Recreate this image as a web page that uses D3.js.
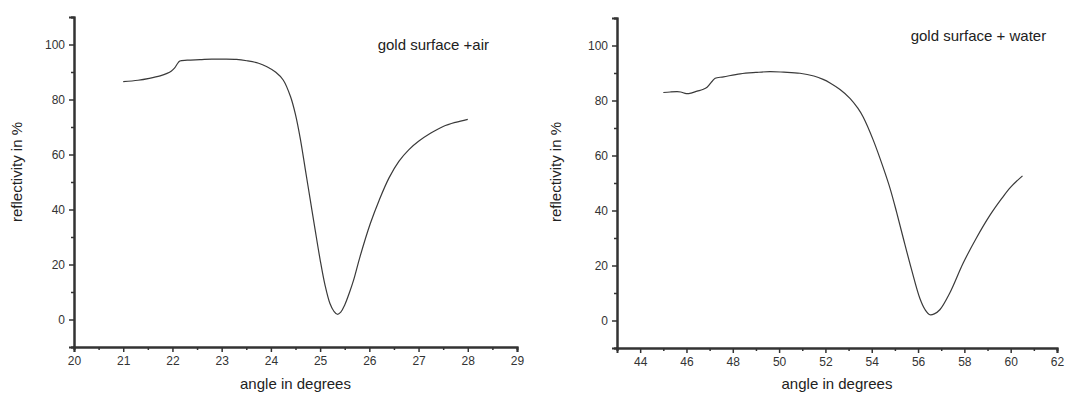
<!DOCTYPE html>
<html><head><meta charset="utf-8">
<script src="https://cdn.jsdelivr.net/npm/d3@7"></script>
<style>
html,body{margin:0;padding:0;background:#fff;}
svg{display:block;font-family:Arial,"Liberation Sans",sans-serif;}
</style></head>
<body><svg id="chart" width="1067" height="394"></svg>
<script>
// ---- data ----
const airAngles = [21.0,21.3,21.53,21.75,21.89,21.98,22.05,22.1,22.15,22.3,22.56,22.8,23.03,23.3,23.51,23.75,23.92,24.1,24.25,24.4,24.5,24.6,24.7,24.8,24.9,25.0,25.1,25.2,25.28,25.35,25.42,25.5,25.6,25.68,25.81,26.02,26.2,26.4,26.6,26.8,27.0,27.25,27.5,27.75,28.0];
const airReflect = [86.5,87.0,87.7,88.6,89.5,90.4,91.6,93.0,94.0,94.3,94.5,94.7,94.7,94.6,94.1,93.2,91.9,89.9,87.1,81.0,74.5,65.5,54.5,43.5,32.5,21.8,12.5,5.8,3.0,1.9,2.7,5.3,10.0,14.3,22.8,34.9,43.4,51.5,57.5,61.7,64.8,67.8,70.2,71.7,72.8];
const waterAngles = [45.0,45.3,45.6,45.75,46.0,46.2,46.46,46.7,46.89,47.1,47.24,47.6,48.32,49.0,49.6,50.2,50.9,51.5,51.9,52.2,52.63,53.06,53.4,53.63,54.07,54.5,54.8,55.07,55.36,55.72,56.08,56.3,56.51,56.7,56.94,57.37,57.95,58.52,59.1,59.6,60.0,60.51];
const waterReflect = [82.9,83.1,83.2,83.1,82.5,82.7,83.4,84.0,84.8,86.9,88.1,88.6,89.7,90.2,90.5,90.3,89.9,88.9,87.7,86.4,84.0,80.8,77.2,74.0,65.5,55.5,47.8,39.5,30.0,18.5,8.0,4.0,2.1,2.4,3.9,10.0,20.9,30.0,38.2,44.2,48.5,52.6];
const airXTicks = [20,21,22,23,24,25,26,27,28,29];
const waterXTicks = [44,46,48,50,52,54,56,58,60,62];
const yTicks = [0,20,40,60,80,100];
const yMinorTicks = [-10,10,30,50,70,90,110];
const airXMinor = [20.5,21.5,22.5,23.5,24.5,25.5,26.5,27.5,28.5];
const waterXMinor = [43,45,47,49,51,53,55,57,59,61];
const yTitle = "reflectivity in %";
const xTitle = "angle in degrees";
const airLabel = "gold surface +air";
const waterLabel = "gold surface + water";

const svg = d3.select("#chart");

function panel(cfg){
  const x = d3.scaleLinear().domain(cfg.xDomain).range(cfg.xRange);
  const y = d3.scaleLinear().domain([-10,110]).range(cfg.yRange);
  const g = svg.append("g");
  const axisColor = "#333";
  const ya = g.append("g").attr("transform",`translate(${cfg.xRange[0]},0)`)
    .call(d3.axisLeft(y).tickValues(yTicks).tickSize(5).tickPadding(4).tickFormat(d3.format("d")));
  const ym = g.append("g").attr("transform",`translate(${cfg.xRange[0]},0)`)
    .call(d3.axisLeft(y).tickValues(yMinorTicks).tickSize(3).tickFormat(""));
  const xa = g.append("g").attr("transform",`translate(0,${cfg.yRange[0]})`)
    .call(d3.axisBottom(x).tickValues(cfg.xTicks).tickSize(5).tickPadding(4).tickFormat(d3.format("d")));
  const xm = g.append("g").attr("transform",`translate(0,${cfg.yRange[0]})`)
    .call(d3.axisBottom(x).tickValues(cfg.xMinor).tickSize(3).tickFormat(""));
  [ya,ym,xa,xm].forEach(a=>{
    a.select(".domain").attr("stroke",axisColor).attr("stroke-width",2);
    a.selectAll(".tick line").attr("stroke",axisColor).attr("stroke-width",1.5);
    a.selectAll(".tick text").attr("fill","#333").style("font-size","12px").style("font-family","Arial, 'Liberation Sans', sans-serif");
  });
  const line = d3.line().x((d,i)=>x(cfg.xs[i])).y((d,i)=>y(cfg.ys[i])).curve(d3.curveCatmullRom.alpha(0.5));
  g.append("path").datum(cfg.ys).attr("d",line).attr("fill","none")
    .attr("stroke","#3a3a3a").attr("stroke-width",1.2);
  const xc = (cfg.xRange[0]+cfg.xRange[1])/2;
  g.append("text").attr("x",xc).attr("y",389).attr("text-anchor","middle")
    .attr("fill","#222").style("font-size","15px").text(xTitle);
  g.append("text").attr("transform",`translate(${cfg.yTitleX},172) rotate(-90)`)
    .attr("text-anchor","middle").attr("fill","#222").style("font-size","15px").text(yTitle);
  g.append("text").attr("x",x(cfg.label[0])).attr("y",y(cfg.label[1]))
    .attr("fill","#222").style("font-size","15px").text(cfg.label[2]);
}

panel({xDomain:[20,29], xRange:[74,517], yRange:[347,17], xTicks:airXTicks, xMinor:airXMinor,
  xs:airAngles, ys:airReflect, yTitleX:22, label:[26.17,98.0,airLabel]});
panel({xDomain:[43,62], xRange:[617,1057], yRange:[348,18], xTicks:waterXTicks, xMinor:waterXMinor,
  xs:waterAngles, ys:waterReflect, yTitleX:561, label:[55.68,101.75,waterLabel]});
</script>
</body></html>
